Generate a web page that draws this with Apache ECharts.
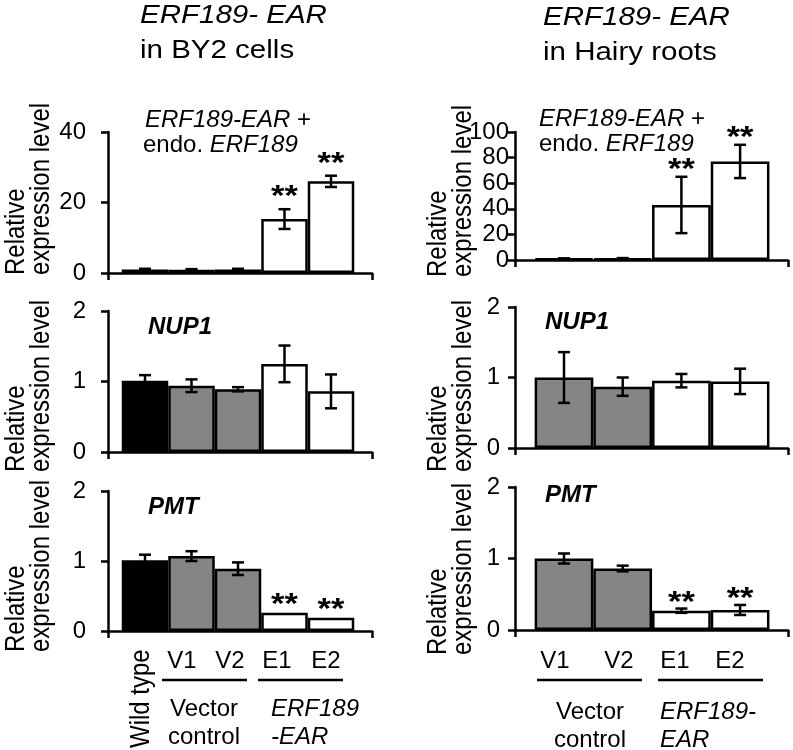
<!DOCTYPE html>
<html>
<head>
<meta charset="utf-8">
<script src="https://cdn.jsdelivr.net/npm/echarts@6/dist/echarts.min.js"></script>
<style>html,body{margin:0;padding:0;background:#fff}#c{width:793px;height:750px}</style>
</head>
<body>
<div id="c"></div>
<script>
// ---- data ----
const bySamples = ['Wild type', 'V1', 'V2', 'E1', 'E2'];
const hrSamples = ['V1', 'V2', 'E1', 'E2'];
const byFill = ['#000000', '#858585', '#858585', '#ffffff', '#ffffff'];
const hrFill = ['#858585', '#858585', '#ffffff', '#ffffff'];

const byErf = [1.0, 0.9, 1.0, 15.3, 26.0];
const byErfErr = [0.2, 0.2, 0.2, 2.8, 1.6];
const byErfSig = ['', '', '', '**', '**'];
const hrErf = [1.0, 1.2, 43, 77];
const hrErfErr = [0.3, 0.3, 22, 13];
const hrErfSig = ['', '', '**', '**'];

const byNup = [1.01, 0.94, 0.89, 1.25, 0.86];
const byNupErr = [0.08, 0.09, 0.03, 0.26, 0.24];
const hrNup = [1.0, 0.87, 0.955, 0.945];
const hrNupErr = [0.36, 0.13, 0.095, 0.18];

const byPmt = [1.01, 1.07, 0.89, 0.26, 0.19];
const byPmtErr = [0.08, 0.07, 0.09, 0, 0];
const byPmtSig = ['', '', '', '**', '**'];
const hrPmt = [1.0, 0.86, 0.27, 0.28];
const hrPmtErr = [0.07, 0.04, 0.03, 0.07];
const hrPmtSig = ['', '', '**', '**'];

const erfTicks = [40, 20];    // max, interval BY2
const erfTicksHr = [100, 20]; // max, interval hairy roots
const relTicks = [2, 1];

// ---- layout ----
const FONT = 'Liberation Sans, Arial, sans-serif';
const LW = 2.5;
const L = { left: 108, width: 264, x0: 145, step: 46.5 };
const R = { left: 515, width: 273, x0: 564, step: 58.7 };
const panels = [
  { col: L, top: 132, height: 141, vals: byErf, err: byErfErr, sig: byErfSig, fill: byFill, yt: erfTicks, lm: 22, so: -12 },
  { col: R, top: 132, height: 128, vals: hrErf, err: hrErfErr, sig: hrErfSig, fill: hrFill, yt: erfTicksHr, lm: 6, so: -7 },
  { col: L, top: 311, height: 141, vals: byNup, err: byNupErr, sig: null, fill: byFill, yt: relTicks, lm: 22, so: 0 },
  { col: R, top: 307, height: 141, vals: hrNup, err: hrNupErr, sig: null, fill: hrFill, yt: relTicks, lm: 15, so: 0 },
  { col: L, top: 491, height: 140, vals: byPmt, err: byPmtErr, sig: byPmtSig, fill: byFill, yt: relTicks, lm: 22, so: -8 },
  { col: R, top: 487, height: 143, vals: hrPmt, err: hrPmtErr, sig: hrPmtSig, fill: hrFill, yt: relTicks, lm: 15, so: -6 }
];

const grid = [], xAxis = [], yAxis = [], series = [];
panels.forEach((p, i) => {
  const c = p.col;
  const min = (c.left - c.x0) / c.step;
  const max = (c.left + c.width - c.x0) / c.step;
  grid.push({ left: c.left, top: p.top, width: c.width, height: p.height });
  xAxis.push({
    type: 'value', gridIndex: i, min: min, max: max, interval: max - min,
    axisLine: { onZero: false, lineStyle: { color: '#000', width: LW } },
    axisTick: { show: true, length: 7, lineStyle: { color: '#000', width: LW } },
    axisLabel: { show: false }, splitLine: { show: false }
  });
  yAxis.push({
    type: 'value', gridIndex: i, min: 0, max: p.yt[0], interval: p.yt[1],
    axisLine: { show: true, onZero: false, lineStyle: { color: '#000', width: LW } },
    axisTick: { show: true, length: 7, lineStyle: { color: '#000', width: LW } },
    axisLabel: { color: '#000', fontSize: 24, fontFamily: FONT, margin: p.lm },
    splitLine: { show: false }
  });
  series.push({
    type: 'bar', xAxisIndex: i, yAxisIndex: i, barWidth: c.step, z: 2,
    data: p.vals.map((v, k) => ({ value: [k, v], itemStyle: { color: p.fill[k] } })),
    itemStyle: { borderColor: '#000', borderWidth: LW },
    silent: true
  });
  const sig = p.sig, err = p.err, so = p.so;
  series.push({
    type: 'custom', xAxisIndex: i, yAxisIndex: i, z: 5, silent: true,
    data: p.vals.map((v, k) => [k, v, err[k]]),
    renderItem: function (params, api) {
      const x = api.value(0), m = api.value(1), e = api.value(2);
      const ch = [];
      const top = api.coord([x, m + e]);
      if (e > 0) {
        const bot = api.coord([x, m - e]);
        const st = { stroke: '#000', lineWidth: LW };
        ch.push({ type: 'line', shape: { x1: top[0], y1: top[1], x2: bot[0], y2: bot[1] }, style: st });
        ch.push({ type: 'line', shape: { x1: top[0] - 6, y1: top[1], x2: top[0] + 6, y2: top[1] }, style: st });
        ch.push({ type: 'line', shape: { x1: bot[0] - 6, y1: bot[1], x2: bot[0] + 6, y2: bot[1] }, style: st });
      }
      const s = sig ? sig[params.dataIndex] : '';
      if (s) {
        ch.push({ type: 'text', x: top[0], y: top[1] + so, scaleX: 1.15, style: { text: s, fontSize: 30, fontWeight: 'bold', fontFamily: FONT, fill: '#000', align: 'center', verticalAlign: 'middle' } });
      }
      return { type: 'group', children: ch };
    }
  });
});

// ---- text ----
function T(x, y, text, extra) {
  extra = extra || {};
  const fs = (extra.style && extra.style.fontSize) || 24;
  return Object.assign({ type: 'text', x: x, y: y, silent: true,
    style: Object.assign({ text: text, fontSize: 24, fontFamily: FONT, fill: '#000', align: 'left', verticalAlign: 'middle',
      rich: { i: { fontStyle: 'italic', fontSize: fs, fontFamily: FONT } } }, extra.style || {}) },
    extra.el || {});
}
function Rot(x, y, text) {
  return T(x, y, text, { el: { rotation: Math.PI / 2, scaleY: 1.15 } });
}
function HL(x1, x2, y) {
  return { type: 'line', silent: true, shape: { x1: x1, y1: y, x2: x2, y2: y }, style: { stroke: '#000', lineWidth: LW } };
}
const titleSt = { fontSize: 25, fontStyle: 'italic' };
const geneSt = { fontSize: 24, fontStyle: 'italic', fontWeight: 'bold' };
const graphic = [
  T(140, 16, 'ERF189- EAR', { style: titleSt, el: { scaleX: 1.18 } }),
  T(140, 51, 'in BY2 cells', { style: { fontSize: 25 }, el: { scaleX: 1.18 } }),
  T(543, 18, 'ERF189- EAR', { style: titleSt, el: { scaleX: 1.18 } }),
  T(543, 53, 'in Hairy roots', { style: { fontSize: 25 }, el: { scaleX: 1.18 } }),

  T(145, 120, '{i|ERF189-EAR} +'),
  T(143, 145, 'endo. {i|ERF189}'),
  T(539, 119, '{i|ERF189-EAR} +'),
  T(539, 144, 'endo. {i|ERF189}'),
  T(148, 327, 'NUP1', { style: geneSt }),
  T(545, 322, 'NUP1', { style: geneSt }),
  T(148, 507, 'PMT', { style: geneSt }),
  T(545, 495, 'PMT', { style: geneSt }),

  Rot(16, 275, 'Relative'), Rot(41, 275, 'expression level'),
  Rot(16, 472, 'Relative'), Rot(41, 472, 'expression level'),
  Rot(16, 652, 'Relative'), Rot(41, 652, 'expression level'),
  Rot(438, 277, 'Relative'), Rot(463, 277, 'expression level'),
  Rot(438, 472, 'Relative'), Rot(463, 472, 'expression level'),
  Rot(438, 655, 'Relative'), Rot(463, 655, 'expression level'),

  Rot(141, 748, bySamples[0]),
  T(182, 661, bySamples[1], { style: { align: 'center' } }),
  T(230, 661, bySamples[2], { style: { align: 'center' } }),
  T(277, 661, bySamples[3], { style: { align: 'center' } }),
  T(326, 661, bySamples[4], { style: { align: 'center' } }),
  HL(162, 247, 680), HL(258, 343, 680),
  T(204, 709, 'Vector', { style: { align: 'center' } }),
  T(204, 737, 'control', { style: { align: 'center' } }),
  T(271, 709, 'ERF189', { style: { fontStyle: 'italic' } }),
  T(271, 737, '-EAR', { style: { fontStyle: 'italic' } }),

  T(555, 661, hrSamples[0], { style: { align: 'center' } }),
  T(619, 661, hrSamples[1], { style: { align: 'center' } }),
  T(675, 661, hrSamples[2], { style: { align: 'center' } }),
  T(730, 661, hrSamples[3], { style: { align: 'center' } }),
  HL(537, 642, 680), HL(658, 763, 680),
  T(590, 712, 'Vector', { style: { align: 'center' } }),
  T(590, 740, 'control', { style: { align: 'center' } }),
  T(660, 712, 'ERF189-', { style: { fontStyle: 'italic' } }),
  T(660, 740, 'EAR', { style: { fontStyle: 'italic' } })
];

const chart = echarts.init(document.getElementById('c'), null, { renderer: 'canvas' });
chart.setOption({
  animation: false,
  backgroundColor: '#fff',
  textStyle: { fontFamily: FONT },
  grid: grid, xAxis: xAxis, yAxis: yAxis, series: series, graphic: graphic
});
</script>
</body>
</html>
